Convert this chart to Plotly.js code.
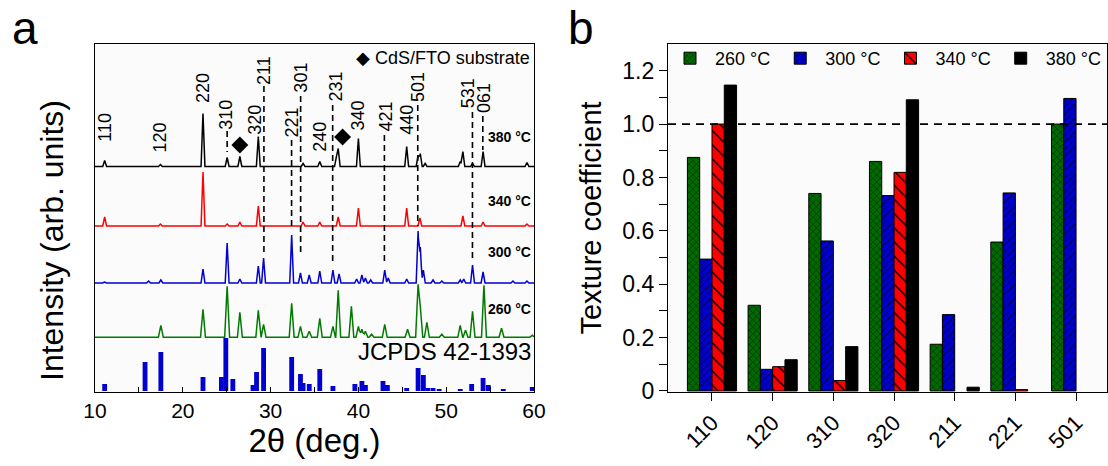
<!DOCTYPE html>
<html><head><meta charset="utf-8">
<script src="https://cdn.plot.ly/plotly-3.0.1.min.js"></script>
<style>html,body{margin:0;padding:0;background:#fff;overflow:hidden}#chart{width:1108px;height:466px}</style>
</head><body><div id="chart"></div>
<script>
// ---------- Panel a: XRD patterns (peak positions in 2θ, peak heights in arb. units) ----------
const peaks380X = [11.1, 17.45, 22.3, 25.05, 26.5, 28.6, 33.7, 35.6, 37.5, 37.7, 40.0, 45.5, 46.8, 47.05, 47.6, 51.6, 51.9, 53.0, 54.2, 59.2];
const peaks380H = [6, 2, 53, 9, 10, 30, 3, 5, 10, 18, 28, 20, 11, 13, 3, 5, 15, 3, 15, 4];
const peaks340X = [11.1, 17.45, 22.3, 25.05, 26.5, 28.6, 33.7, 35.6, 37.7, 40.0, 45.5, 47.0, 51.9, 54.2, 59.2];
const peaks340H = [9, 2, 54, 2, 4, 20, 4, 4, 9, 18, 18, 8, 10, 4, 2];
const peaks300X = [11.1, 16.1, 17.5, 22.3, 25.05, 26.5, 28.6, 29.2, 32.4, 33.4, 34.4, 35.6, 37.1, 37.8, 39.8, 40.4, 40.8, 41.4, 43.0, 43.4, 45.5, 46.8, 47.05, 47.4, 48.5, 49.5, 51.6, 52.0, 53.0, 54.2, 57.6, 59.2];
const peaks300H = [1, 2, 3, 14, 40, 4, 17, 25, 48, 10, 8, 12, 13, 9, 4, 8, 5, 3, 13, 5, 4, 52, 36, 13, 3, 2, 3, 4, 18, 11, 2, 2];
const peaks260X = [17.5, 22.3, 25.05, 26.5, 28.6, 29.2, 32.4, 33.4, 34.4, 35.6, 37.1, 37.7, 39.2, 40.0, 40.4, 40.8, 41.5, 43.0, 45.6, 46.8, 47.05, 47.8, 49.5, 51.6, 52.2, 53.0, 54.3, 56.3, 59.8];
const peaks260H = [12, 28, 51, 25, 27, 13, 34, 11, 6, 19, 11, 47, 31, 11, 8, 6, 3, 13, 8, 53, 31, 15, 3, 12, 7, 26, 52, 9, 2];

// JCPDS 42-1393 reference lines
const refX = [11.1, 15.7, 17.5, 22.3, 24.4, 24.9, 25.7, 28.0, 28.4, 29.2, 32.4, 33.4, 33.7, 34.4, 35.6, 37.1, 39.6, 40.4, 40.8, 42.8, 43.3, 45.5, 46.8, 47.4, 47.9, 48.5, 49.2, 51.6, 52.9, 54.2, 54.8, 56.5, 59.8];
const refH = [7, 29, 39, 14, 14, 53, 12, 6, 19, 43, 34, 17, 8, 7, 22, 5, 7, 10, 6, 10, 6, 3, 23, 16, 3, 3, 2, 2, 7, 13, 6, 2, 4];

// Miller index labels
const hklText = ['110','120','220','310','320','211','221','301','240','231','340','421','440','501','531','061'];
const hklX    = [11.1, 17.45, 22.3, 24.9, 28.2, 29.24, 32.39, 33.42, 35.6, 37.4, 40.0, 43.1, 45.5, 46.8, 52.5, 54.3];
const hklY    = [265, 255, 304, 277, 272, 322, 269, 314, 255, 305, 277, 275, 272, 305, 299, 294];

// dashed guide lines (2θ, top, bottom)
const guideX      = [25.05, 29.24, 32.39, 33.42, 37.07, 42.96, 46.76, 52.99, 54.17];
const guideTop    = [261, 306, 252, 296, 287, 257, 287, 280, 276];
const guideBottom = [240, 139, 166, 137, 129, 129, 166, 134, 242];

// CdS/FTO substrate peaks
const substrateX = [26.5, 38.2];
const substrateY = [247, 255];

const tempLabels = ['380 °C', '340 °C', '300 °C', '260 °C'];

// ---------- Panel b: texture coefficients (null = no bar) ----------
const planes = ['110','120','310','320','211','221','501'];
const tc260 = [0.875, 0.321, 0.740, 0.860, 0.175, 0.558, 1.000];
const tc300 = [0.494, 0.081, 0.562, 0.732, 0.286, 0.742, 1.096];
const tc340 = [1.000, 0.091, 0.039, 0.819, null, 0.005, null];
const tc380 = [1.146, 0.117, 0.166, 1.091, 0.014, null, null];

// ---------- styling / layout ----------
const FONT = 'Arial, "Liberation Sans", sans-serif';
const offsets = {380: 225.5, 340: 166, 300: 109, 260: 54.7};
const tempLabelY = [255, 191, 140, 83];
const W = 1108, H = 466;
const px = v => v / W, py = v => 1 - v / H;

function profile(pX, pH, w, base) {
  let xs = [10, 60];
  pX.forEach(p => xs.push(p - w, p, p + w));
  xs = xs.filter(x => x >= 10 && x <= 60).sort((a, b) => a - b);
  const ys = xs.map(x => { let m = 0;
    pX.forEach((p, i) => { const v = pH[i] * Math.max(0, 1 - Math.abs(x - p) / w); if (v > m) m = v; });
    return base + m; });
  return {x: xs, y: ys};
}

const traces = [];
[[peaks380X, peaks380H, offsets[380], '#000000', 0.22],
 [peaks340X, peaks340H, offsets[340], '#ff0000', 0.22],
 [peaks300X, peaks300H, offsets[300], '#0000d0', 0.22],
 [peaks260X, peaks260H, offsets[260], '#007a00', 0.28]].forEach(([X, Hh, b, c, w]) => {
  const p = profile(X, Hh, w, b);
  traces.push({type: 'scatter', mode: 'lines', x: p.x, y: p.y, xaxis: 'x', yaxis: 'y',
    line: {color: c, width: 1.5}, showlegend: false, hoverinfo: 'skip'});
});
traces.push({type: 'bar', x: refX, y: refH, base: 1, width: 0.55, xaxis: 'x', yaxis: 'y',
  marker: {color: '#0000d0', line: {width: 0}}, showlegend: false, hoverinfo: 'skip'});
traces.push({type: 'scatter', mode: 'markers', x: substrateX, y: substrateY, xaxis: 'x', yaxis: 'y',
  marker: {symbol: 'diamond', size: 13, color: '#000'}, showlegend: false, hoverinfo: 'skip'});

[['260 °C', tc260, '#006b00', 'x', 5],
 ['300 °C', tc300, '#0000cc', '/', 5],
 ['340 °C', tc340, '#ff0000', '\\', 10],
 ['380 °C', tc380, '#000000', '', 6]].forEach(([name, vals, col, shape, size]) => {
  traces.push({type: 'bar', name: name, x: planes, y: vals, xaxis: 'x2', yaxis: 'y2',
    marker: {color: col, line: {color: '#000', width: 1},
      pattern: {shape: shape, fillmode: 'replace', fgcolor: '#000', bgcolor: col, fgopacity: 1, size: size, solidity: 0.15}}});
});

const annotations = [];
hklText.forEach((t, i) => annotations.push({xref: 'x', yref: 'y', x: hklX[i], y: hklY[i], text: t,
  xanchor: 'center', yanchor: 'middle', textangle: -90, showarrow: false, font: {family: FONT, size: 18, color: '#000'}}));
tempLabels.forEach((t, i) => annotations.push({xref: 'paper', yref: 'y', x: px(533), y: tempLabelY[i],
  xanchor: 'right', yanchor: 'middle', text: '<b>' + t + '</b>', showarrow: false, font: {family: FONT, size: 14, color: '#000'}}));
annotations.push({xref: 'paper', yref: 'y', x: px(532), y: 334, xanchor: 'right', yanchor: 'middle', showarrow: false,
  text: '◆ CdS/FTO substrate', font: {family: FONT, size: 18, color: '#000'}});
annotations.push({xref: 'paper', yref: 'paper', x: px(533), y: py(351), xanchor: 'right', yanchor: 'middle', showarrow: false,
  text: 'JCPDS 42-1393', font: {family: FONT, size: 24, color: '#000'}});
annotations.push({xref: 'paper', yref: 'paper', x: px(52), y: py(241), xanchor: 'center', yanchor: 'middle', textangle: -90, showarrow: false,
  text: 'Intensity (arb. units)', font: {family: FONT, size: 32, color: '#000'}});
annotations.push({xref: 'paper', yref: 'paper', x: px(10), y: 1, xanchor: 'left', yanchor: 'top', showarrow: false,
  text: 'a', font: {family: FONT, size: 46, color: '#000'}});
annotations.push({xref: 'paper', yref: 'paper', x: px(566), y: 1, xanchor: 'left', yanchor: 'top', showarrow: false,
  text: 'b', font: {family: FONT, size: 46, color: '#000'}});

const shapes = [];
guideX.forEach((g, i) => shapes.push({type: 'line', xref: 'x', yref: 'y', x0: g, x1: g, y0: guideTop[i], y1: guideBottom[i],
  line: {color: '#000', width: 1.6, dash: '6px,4px'}}));
shapes.push({type: 'line', xref: 'x2 domain', yref: 'y2', x0: 0, x1: 1, y0: 1, y1: 1,
  line: {color: '#000', width: 1.8, dash: '8px,6px'}});

const axisCommon = {showline: true, linecolor: '#000', linewidth: 1.2, mirror: true, showgrid: false, zeroline: false, automargin: false};
const a5 = [], a5t = [];
for (let v = 10; v <= 60; v += 5) { a5.push(v); a5t.push(v % 10 === 0 ? String(v) : ''); }
const b1 = [], b1t = [];
for (let k = 0; k <= 12; k++) { b1.push(k / 10); b1t.push(k % 2 === 0 ? (k === 0 ? '0' : (k / 10).toFixed(1)) : ''); }

const layout = {
  width: W, height: H, margin: {l: 0, r: 0, t: 0, b: 0, pad: 0}, autosize: false,
  paper_bgcolor: '#ffffff', plot_bgcolor: '#fbfbfb', font: {family: FONT, color: '#000'},
  barmode: 'group', bargap: 0.19, bargroupgap: 0,
  xaxis: Object.assign({}, axisCommon, {domain: [px(95), px(534)], range: [10, 60], tickvals: a5, ticktext: a5t,
    ticks: 'inside', ticklen: 5, tickcolor: '#000', tickfont: {size: 21, family: FONT},
    title: {text: '2θ (deg.)', font: {size: 33, family: FONT}, standoff: 4}, anchor: 'y'}),
  yaxis: Object.assign({}, axisCommon, {domain: [py(392), py(44)], range: [0, 348], showticklabels: false, ticks: '', anchor: 'x'}),
  xaxis2: Object.assign({}, axisCommon, {domain: [px(668), px(1107)], type: 'category', range: [-0.725, 6.51],
    ticks: 'outside', ticklen: 8, tickcolor: '#000', tickangle: -45, tickfont: {size: 22, family: FONT}, anchor: 'y2'}),
  yaxis2: Object.assign({}, axisCommon, {domain: [py(392), py(44)], range: [-0.004, 1.3], tickvals: b1, ticktext: b1t,
    ticks: 'outside', ticklen: 8, tickcolor: '#000', tickfont: {size: 23, family: FONT},
    title: {text: 'Texture coefficient', font: {size: 29, family: FONT}, standoff: 12}, anchor: 'x2'}),
  legend: {orientation: 'h', x: px(1106), y: py(40), xanchor: 'right', yanchor: 'top', bgcolor: 'rgba(0,0,0,0)',
    font: {size: 18, family: FONT}, traceorder: 'normal', itemwidth: 40},
  annotations: annotations, shapes: shapes
};

Plotly.newPlot('chart', traces, layout, {displayModeBar: false, staticPlot: true});
</script>
</body></html>
